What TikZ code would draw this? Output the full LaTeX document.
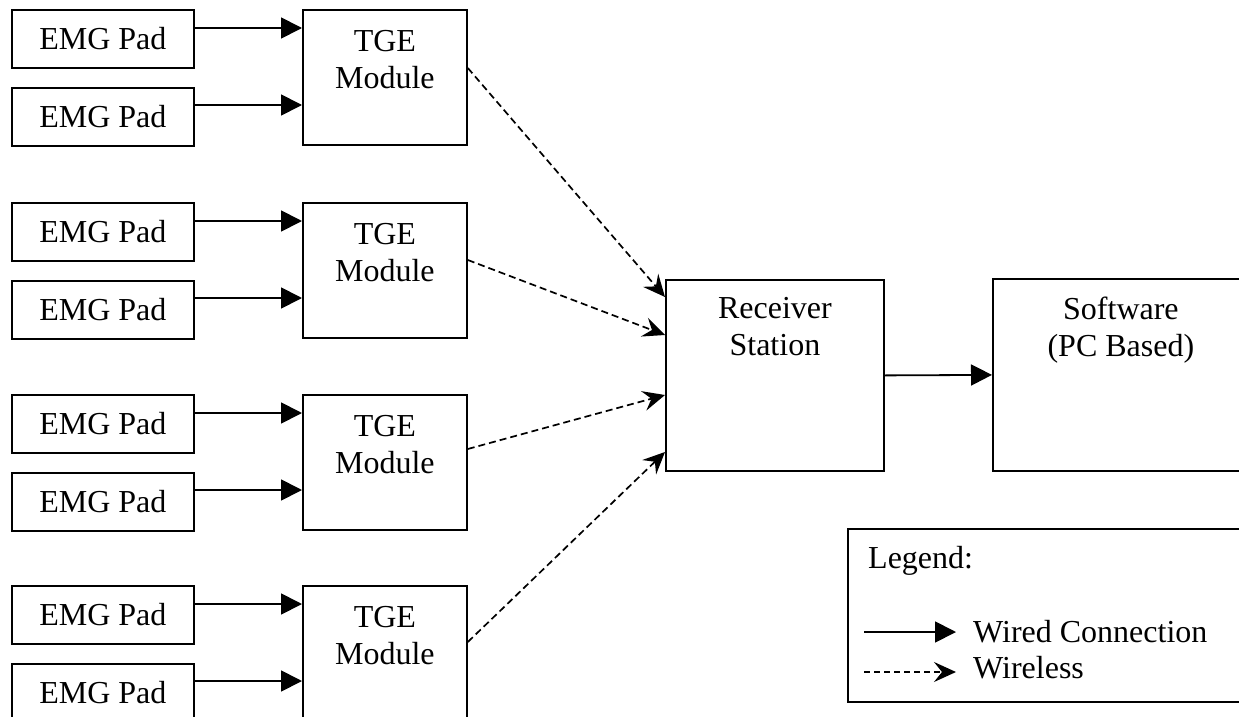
\documentclass[tikz,border=0pt]{standalone}
\usepackage{fontspec}
\setmainfont{Liberation Serif}
\usetikzlibrary{arrows.meta}
\tikzset{
  every node/.style={font=\fontsize{32}{37}\selectfont},
  pad/.style={draw, line width=1.8pt, anchor=north west, minimum width=182pt, minimum height=58pt, inner sep=0pt},
  blk/.style={draw, line width=1.8pt, anchor=north west, inner sep=0pt},
  lbl/.style={anchor=north, inner sep=0pt, align=center},
  txt/.style={anchor=base west, inner sep=0pt},
  wired/.style={line width=1.8pt, -{Triangle[length=21pt,width=21pt]}},
  wireless/.style={line width=1.7pt, dash pattern=on 7pt off 4pt, -{Stealth[length=22pt,width=20pt,inset=8pt]}},
}
\begin{document}
\begin{tikzpicture}[x=1pt,y=-1pt]
\useasboundingbox (0,0) rectangle (1239,717);
\fill[white] (0,0) rectangle (1239,717);
\clip (0,0) rectangle (1239,717);

% groups
\foreach \g/\off in {1/0,2/193,3/385,4/576}{
  \node[pad] (p\g a) at (11,9+\off) {EMG Pad};
  \node[pad] (p\g b) at (11,87+\off) {EMG Pad};
  \node[blk, minimum width=164pt, minimum height=135pt] (t\g) at (302,9+\off) {};
  \node[lbl] (t\g txt) at (t\g.north) {\rule{0pt}{42pt}TGE\\Module};
  \draw[wired] ([yshift=-19pt]p\g a.north east) -- ([yshift=-19pt]p\g a.north east -| t\g.west);
  \draw[wired] ([yshift=-18pt]p\g b.north east) -- ([yshift=-18pt]p\g b.north east -| t\g.west);
}

\node[blk, minimum width=218pt, minimum height=191pt] (rec) at (665,279) {};
\node[lbl] (rectxt) at (rec.north) {\rule{0pt}{39pt}Receiver\\Station};
\node[blk, minimum width=256pt, minimum height=192pt] (sw) at (992,278) {};
\node[lbl] (swtxt) at (sw.north) {\rule{0pt}{41pt}Software\\(PC Based)};

\draw[wireless] ([yshift=-59pt]t1.north east) -- ([yshift=-18pt]rec.north west);
\draw[wireless] ([yshift=-58pt]t2.north east) -- ([yshift=-56pt]rec.north west);
\draw[wireless] ([yshift=-55pt]t3.north east) -- ([yshift=-116pt]rec.north west);
\draw[wireless] ([yshift=-57pt]t4.north east) -- ([yshift=-173pt]rec.north west);

\draw[wired] (rec.east) -- (sw.west);

% legend
\node[blk, minimum width=400pt, minimum height=173pt] (leg) at (847,528) {};
\node[txt] (legtitle) at (868,568) {Legend:};
\coordinate (w1) at (864,632);
\coordinate (w2) at (956,632);
\coordinate (d1) at (864,672);
\coordinate (d2) at (956,672);
\draw[wired] (w1) -- (w2);
\draw[wireless, dash pattern=on 6pt off 4pt] (d1) -- (d2);
\node[txt] (wiredtxt) at (973,642) {Wired Connection};
\node[txt] (wltxt) at (973,678) {Wireless};
\end{tikzpicture}
\end{document}
